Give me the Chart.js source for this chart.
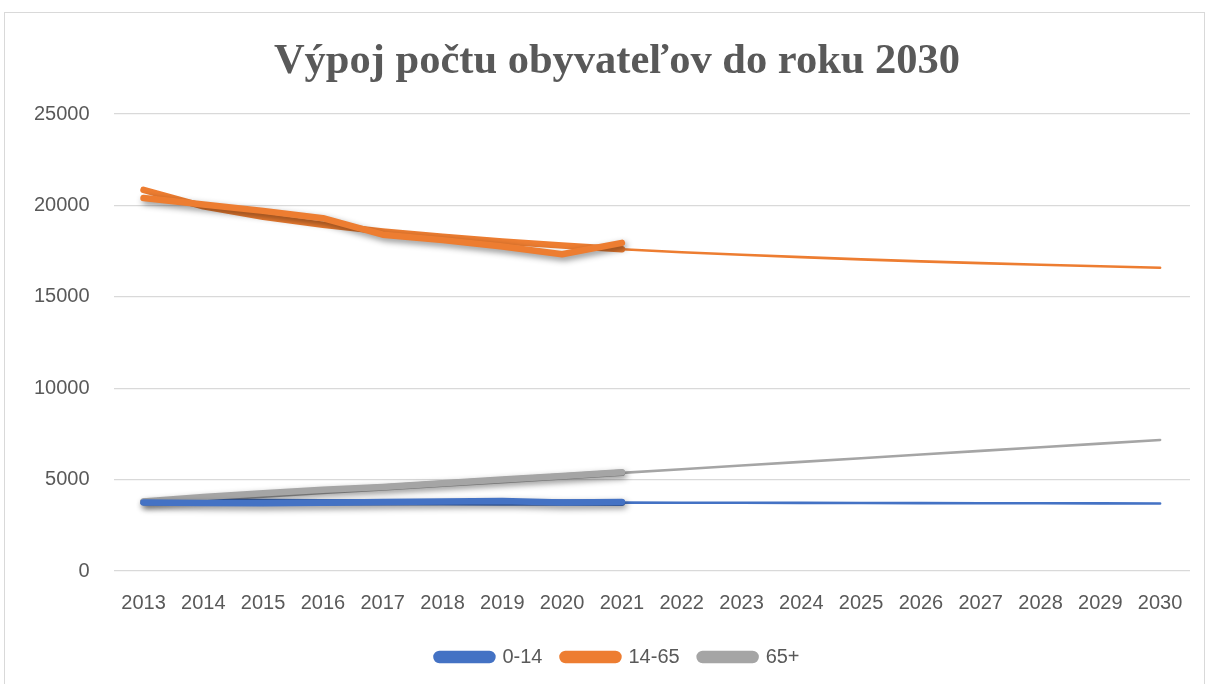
<!DOCTYPE html>
<html>
<head>
<meta charset="utf-8">
<script src="https://cdn.jsdelivr.net/npm/chart.js@4.4.1/dist/chart.umd.min.js"></script>
<style>
  body { margin: 0; background: #fff; }
  #wrap { position: relative; width: 1209px; height: 684px; }
  #frame { position: absolute; left: 4px; top: 12px; width: 1201px; height: 700px; border: 1px solid #d9d9d9; box-sizing: border-box; }
  canvas { position: absolute; left: 0; top: 0; }
</style>
</head>
<body>
<div id="wrap">
  <div id="frame"></div>
  <canvas id="chart" width="1209" height="684"></canvas>
</div>
<script>
const YEARS = [
  "2013", "2014", "2015", "2016", "2017", "2018", "2019", "2020", "2021",
  "2022", "2023", "2024", "2025", "2026", "2027", "2028", "2029", "2030",
];
const SERIES_NAMES = ["0-14", "14-65", "65+"];
const COLORS = ["#4472C4", "#ED7D31", "#A5A5A5"];

// Actual values 2013-2021
const KIDS = [3750, 3720, 3700, 3740, 3780, 3800, 3830, 3750, 3780];
const WORKING = [20400, 20050, 19700, 19300, 18400, 18100, 17750, 17330, 17950];
const SENIORS = [3800, 4050, 4250, 4450, 4600, 4800, 5000, 5200, 5400];

// Trend lines 2013-2030
const KIDS_TREND = [3780, 3775, 3770, 3765, 3760, 3755, 3750, 3745, 3740,
  3735, 3730, 3725, 3720, 3715, 3710, 3705, 3700, 3695];
const WORKING_TREND = [20850, 19950, 19380, 18940, 18580, 18280, 18020, 17800, 17600,
  17440, 17300, 17170, 17050, 16940, 16840, 16750, 16670, 16590];
const SENIORS_TREND = [3770, 3970, 4170, 4370, 4570, 4770, 4970, 5170, 5370,
  5570, 5770, 5970, 6170, 6370, 6570, 6770, 6970, 7170];

const Y_TICKS = [0, 5000, 10000, 15000, 20000, 25000];

const THICK = 6.5;
const THIN = 2.6;
const LAST_ACTUAL = KIDS.length - 1;

// soft shadow under the thick data lines
const shadowPlugin = {
  id: "lineShadow",
  beforeDatasetDraw(chart, args) {
    const ds = chart.data.datasets[args.index];
    chart.ctx.save();
    if (ds.shadow) {
      chart.ctx.shadowColor = "rgba(0, 0, 0, 0.45)";
      chart.ctx.shadowBlur = 6;
      chart.ctx.shadowOffsetX = 2;
      chart.ctx.shadowOffsetY = 3;
    }
  },
  afterDatasetDraw(chart) {
    chart.ctx.restore();
  },
};

// title and legend sit a bit right of the canvas centre in the original
const nudgePlugin = {
  id: "nudge",
  afterLayout(chart) {
    if (chart.titleBlock) {
      chart.titleBlock.left += 17;
      chart.titleBlock.right += 17;
    }
    if (chart.legend) {
      chart.legend.left += 18;
      chart.legend.right += 18;
    }
  },
};

function actualDataset(i, values) {
  return {
    label: SERIES_NAMES[i],
    data: values,
    borderColor: COLORS[i],
    backgroundColor: COLORS[i],
    borderWidth: THICK,
    borderCapStyle: "round",
    borderJoinStyle: "round",
    pointRadius: 0,
    tension: 0,
    shadow: true,
  };
}

function trendDataset(i, values) {
  return {
    label: SERIES_NAMES[i] + " trend",
    data: values,
    borderColor: COLORS[i],
    backgroundColor: COLORS[i],
    borderWidth: THIN,
    borderCapStyle: "round",
    borderJoinStyle: "round",
    pointRadius: 0,
    tension: 0,
    shadow: false,
    segment: {
      borderWidth: (ctx) => (ctx.p0DataIndex < LAST_ACTUAL ? THICK : THIN),
    },
  };
}

const datasets = [
  actualDataset(0, KIDS),
  actualDataset(1, WORKING),
  actualDataset(2, SENIORS),
  trendDataset(0, KIDS_TREND),
  trendDataset(1, WORKING_TREND),
  trendDataset(2, SENIORS_TREND),
];

const tickFont = { family: "'Liberation Sans', Arial, sans-serif", size: 20 };

new Chart(document.getElementById("chart"), {
  type: "line",
  data: { labels: YEARS, datasets },
  plugins: [shadowPlugin, nudgePlugin],
  options: {
    responsive: false,
    animation: false,
    layout: { padding: { left: 10, right: 19, top: 0, bottom: 7 } },
    scales: {
      x: {
        offset: true,
        grid: { display: false },
        border: { display: false },
        ticks: { color: "#595959", font: tickFont, padding: 12, maxRotation: 0 },
      },
      y: {
        min: 0,
        max: 25000,
        afterBuildTicks: (axis) => {
          axis.ticks = Y_TICKS.map((v) => ({ value: v }));
        },
        grid: { color: "#d9d9d9", lineWidth: 1.3, drawTicks: false },
        border: { display: false },
        ticks: {
          color: "#595959",
          font: tickFont,
          padding: 24,
          callback: (value) => String(value),
        },
      },
    },
    plugins: {
      title: {
        display: true,
        text: "Výpoj počtu obyvateľov do roku 2030",
        color: "#595959",
        font: { family: "'Liberation Serif', 'Times New Roman', serif", size: 42.5, weight: "bold" },
        padding: { top: 37, bottom: 26 },
      },
      legend: {
        position: "bottom",
        labels: {
          filter: (item) => item.datasetIndex < 3,
          color: "#595959",
          font: tickFont,
          boxWidth: 56,
          boxHeight: 6,
          useBorderRadius: true,
          borderRadius: 3,
          padding: 20,
        },
      },
      tooltip: { enabled: false },
    },
  },
});
</script>
</body>
</html>
